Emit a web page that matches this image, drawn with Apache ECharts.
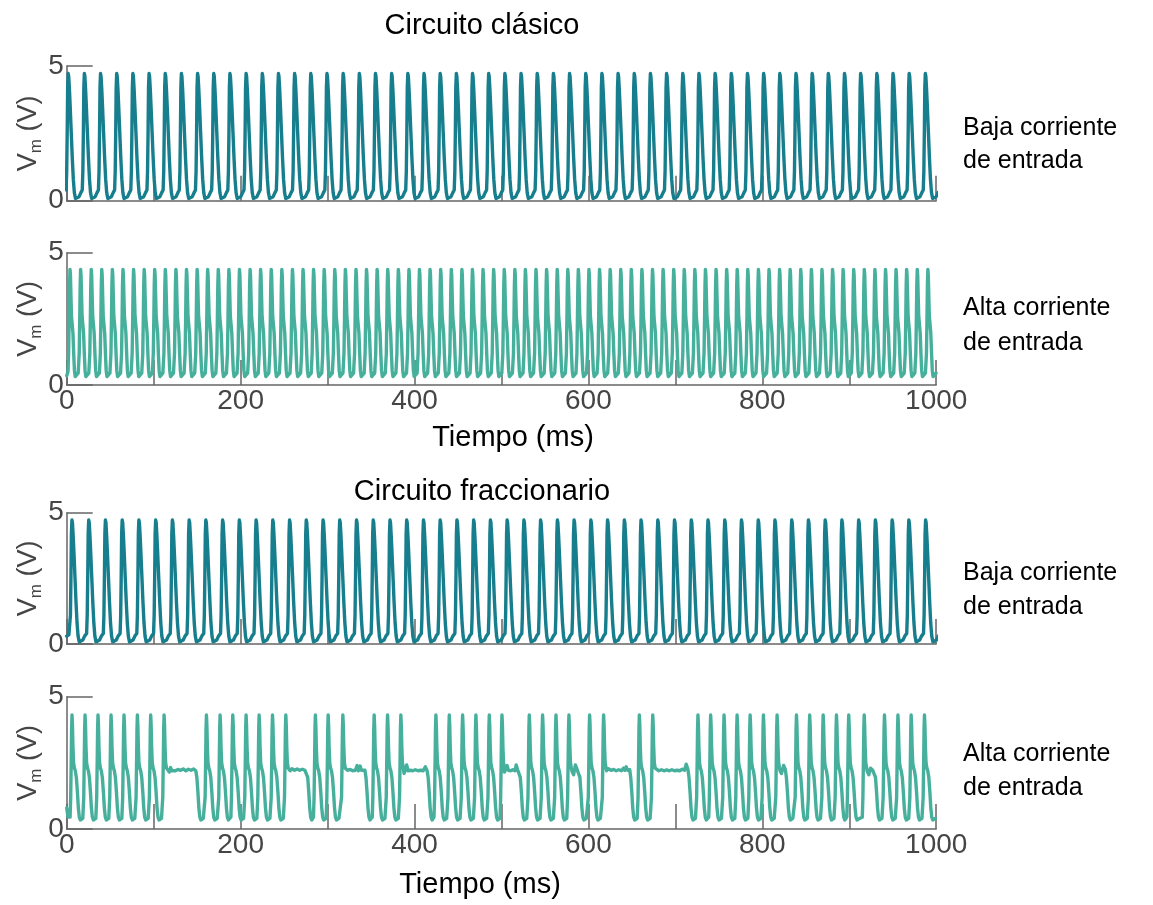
<!DOCTYPE html>
<html>
<head>
<meta charset="utf-8">
<script src="https://cdn.jsdelivr.net/npm/echarts@6/dist/echarts.min.js"></script>
<style>
  html, body { margin: 0; padding: 0; background: #ffffff; }
  #chart { width: 1153px; height: 905px; }
</style>
</head>
<body>
<div id="chart"></div>
<script>
// ---- Data (time in ms, voltage in V) ----
const timeRange = [0, 1000];
const voltRange = [0, 5];
const panelTitles = ['Circuito clásico', 'Circuito fraccionario'];
const rowLabels = [
  ['Baja corriente', 'de entrada'],
  ['Alta corriente', 'de entrada'],
  ['Baja corriente', 'de entrada'],
  ['Alta corriente', 'de entrada']
];
const timeAxisName = 'Tiempo (ms)';

// Spike peak times, classic circuit, low input current
const peaksClassicLow = [1.7, 20.3, 38.9, 57.5, 76.1, 94.7, 113.3, 131.9, 150.5, 169.1, 187.7, 206.3, 224.9, 243.5,
  262.1, 280.7, 299.3, 317.9, 336.5, 355.1, 373.7, 392.3, 410.9, 429.5, 448.1, 466.7, 485.3, 503.9, 522.5, 541.1,
  559.7, 578.3, 596.9, 615.5, 634.1, 652.7, 671.3, 689.9, 708.5, 727.1, 745.7, 764.3, 782.9, 801.5, 820.1, 838.7,
  857.3, 875.9, 894.5, 913.1, 931.7, 950.3, 968.9, 987.5];

// Spike peak times, classic circuit, high input current
const peaksClassicHigh = [3.8, 16.0, 28.2, 40.3, 52.5, 64.7, 76.9, 89.1, 101.2, 113.4, 125.6, 137.8, 150.0, 162.1,
  174.3, 186.5, 198.7, 210.9, 223.0, 235.2, 247.4, 259.6, 271.8, 283.9, 296.1, 308.3, 320.5, 332.7, 344.8, 357.0,
  369.2, 381.4, 393.6, 405.7, 417.9, 430.1, 442.3, 454.5, 466.6, 478.8, 491.0, 503.2, 515.4, 527.5, 539.7, 551.9,
  564.1, 576.3, 588.4, 600.6, 612.8, 625.0, 637.2, 649.3, 661.5, 673.7, 685.9, 698.1, 710.2, 722.4, 734.6, 746.8,
  759.0, 771.1, 783.3, 795.5, 807.7, 819.9, 832.0, 844.2, 856.4, 868.6, 880.8, 892.9, 905.1, 917.3, 929.5, 941.7,
  953.8, 966.0, 978.2, 990.4];

// Spike peak times, fractional circuit, low input current
const peaksFracLow = [6.0, 25.3, 44.5, 63.8, 83.0, 102.3, 121.5, 140.8, 160.0, 179.3, 198.5, 217.8, 237.0, 256.3,
  275.5, 294.8, 314.0, 333.3, 352.5, 371.8, 391.0, 410.3, 429.5, 448.8, 468.0, 487.3, 506.5, 525.8, 545.0, 564.3,
  583.5, 602.8, 622.0, 641.3, 660.5, 679.8, 699.0, 718.3, 737.5, 756.8, 776.0, 795.3, 814.5, 833.8, 853.0, 872.3,
  891.5, 910.8, 930.0, 949.3, 968.5, 987.8];

// Spike peak times, fractional circuit, high input current (bursting)
const peaksFracHigh = [6.1, 21.1, 36.0, 51.0, 65.9, 81.3, 96.6, 112.0,
  160.7, 176.4, 191.0, 206.3, 221.3, 236.7, 252.0,
  286.0, 300.7, 317.6,
  353.6, 369.0, 384.3,
  424.6, 440.0, 455.3, 470.6, 486.0, 500.6,
  532.0, 547.3, 562.7, 577.6, 601.4, 617.5,
  658.6, 674.0,
  726.0, 740.6, 756.0, 771.0, 786.0, 801.3, 817.0, 839.3, 854.5, 870.0, 885.3, 899.4, 917.2,
  940.5, 956.0, 971.2, 986.5];

// Depolarised plateaus between bursts (fractional circuit, high current)
const plateausFracHigh = [
  [[116, 2.3], [118, 2.15], [119.5, 2.32], [121, 2.2], [123, 2.27], [125, 2.2], [128, 2.25], [131, 2.22], [134, 2.27],
   [137, 2.2], [140, 2.26], [143, 2.22], [146, 2.27], [148.5, 2.2]],
  [[255, 2.3], [257, 2.2], [259, 2.28], [262, 2.22], [265, 2.27], [268, 2.22], [271, 2.26], [274, 2.22], [276, 2.2]],
  [[321, 2.35], [323, 2.22], [326, 2.25], [329, 2.2], [332, 2.22], [334, 2.4], [335.5, 2.2], [337.5, 2.38], [339, 2.22],
   [341, 2.25], [343, 2.22]],
  [[388, 2.1], [389.5, 2.05], [391, 2.42], [392.5, 2.2], [395, 2.22], [398, 2.2], [401, 2.24], [404, 2.2], [407, 2.22],
   [410, 2.2], [412.5, 2.35], [414.5, 2.2]],
  [[503.5, 2.15], [505, 2.1], [506.5, 2.4], [508, 2.22], [510.5, 2.2], [513, 2.24], [515.5, 2.2], [517, 2.42],
   [518.5, 2.25], [520.5, 2.22]],
  [[581, 2.2], [583, 2.05], [585, 2.42], [587, 2.25], [589, 2.2]],
  [[621, 2.2], [623, 2.28], [626, 2.22], [629, 2.25], [632, 2.2], [635, 2.24], [638, 2.2], [640.5, 2.3], [642, 2.22],
   [643.5, 2.35], [645, 2.22], [647.5, 2.24]],
  [[678, 2.25], [681, 2.2], [684, 2.24], [687, 2.2], [690, 2.23], [693, 2.2], [696, 2.24], [699, 2.2], [702, 2.22],
   [705, 2.2], [708, 2.26], [710.5, 2.22], [712.5, 2.45], [714.5, 2.25]],
  [[820.5, 2.2], [822, 2.1], [824.5, 2.4], [826.5, 2.25]],
  [[920.5, 2.2], [922.5, 2.05], [924.5, 2.3], [927, 2.22], [929, 2.2]]
];

// Spike waveforms: [offset from peak (ms), V]; rise part up to the shoulder, then repolarisation
const riseLow = [[-2.4, 0.4], [-1.7, 1.1], [-1.1, 2.6], [-0.6, 4.2], [0, 4.72], [0.6, 4.62], [1.4, 4.15], [2.3, 3.5]];
const fallLow = [[3.5, 2.55], [4.7, 1.6], [5.9, 0.8], [7.1, 0.3], [8.4, 0.08], [10.2, 0.07], [12.5, 0.15], [14.6, 0.3]];
const riseHigh = [[-2.3, 0.5], [-1.6, 1.2], [-1.0, 2.5], [-0.5, 3.8], [0, 4.37], [0.5, 4.15], [1.1, 3.35], [1.7, 2.6]];
const fallHigh = [[2.5, 2.3], [3.4, 1.95], [4.3, 1.15], [5.1, 0.55], [6.0, 0.32], [7.0, 0.28], [8.3, 0.35], [9.4, 0.45]];
const riseFrac = [[-2.2, 0.45], [-1.5, 1.2], [-0.9, 2.6], [-0.45, 3.8], [0, 4.31], [0.5, 3.95], [1.1, 3.1], [1.8, 2.5], [2.8, 2.3]];
const fallFrac = [[3.8, 2.2], [5.0, 1.95], [6.2, 1.4], [7.3, 0.8], [8.4, 0.45], [9.6, 0.34], [11.0, 0.34], [12.4, 0.4]];

// Trace values before the first spike
const startClassicLow = [];
const startClassicHigh = [[0, 0.35]];
const startFracLow = [[0, 0.3], [2.5, 0.35]];
const startFracHigh = [[0, 0.8], [1.5, 0.45], [3.0, 0.38]];

// ---- Trace assembly: each spike placed at its peak time ----
function buildTrace(start, peaks, rise, fall, plateaus) {
  const pts = start.slice();
  const fallStart = fall[0][0];
  peaks.forEach((tp, i) => {
    const nextPeak = i + 1 < peaks.length ? peaks[i + 1] : Infinity;
    const nextRise = nextPeak + rise[0][0];
    const push = (t, v) => {
      if ((pts.length === 0 || t > pts[pts.length - 1][0]) && t < nextRise) pts.push([+t.toFixed(2), v]);
    };
    rise.forEach(([o, v]) => push(tp + o, v));
    const hold = (plateaus || []).find(p => p[0][0] > tp && p[0][0] < nextPeak);
    if (hold) {
      hold.forEach(([t, v]) => push(t, v));
      const t0 = hold[hold.length - 1][0];
      fall.slice(1).forEach(([o, v]) => push(t0 + o - fallStart, v));
    } else {
      fall.forEach(([o, v]) => push(tp + o, v));
    }
  });
  return pts;
}

const traces = [
  buildTrace(startClassicLow, peaksClassicLow, riseLow, fallLow),
  buildTrace(startClassicHigh, peaksClassicHigh, riseHigh, fallHigh),
  buildTrace(startFracLow, peaksFracLow, riseLow, fallLow),
  buildTrace(startFracHigh, peaksFracHigh, riseFrac, fallFrac, plateausFracHigh)
];

// ---- Styling / layout ----
const FONT = '"Liberation Sans", Arial, Helvetica, sans-serif';
const DARK_TEAL = '#177e8d';
const LIGHT_TEAL = '#47b09d';
const AXIS_GREY = '#666666';
const LABEL_GREY = '#454545';
const lineColors = [DARK_TEAL, LIGHT_TEAL, DARK_TEAL, LIGHT_TEAL];
const gridBoxes = [
  { top: 66, height: 134.7 },
  { top: 252.7, height: 132.3 },
  { top: 512.7, height: 131.3 },
  { top: 696.7, height: 132.3 }
];
const plotLeft = 66.7, plotWidth = 869.5;

const chart = echarts.init(document.getElementById('chart'), null, { renderer: 'canvas' });

const grids = gridBoxes.map(b => ({ left: plotLeft, width: plotWidth, top: b.top, height: b.height }));

const xAxes = gridBoxes.map((b, i) => ({
  type: 'value', gridIndex: i, min: timeRange[0], max: timeRange[1], interval: 100,
  axisLine: { lineStyle: { color: AXIS_GREY, width: 1.5 } },
  axisTick: { inside: true, length: 25, lineStyle: { color: AXIS_GREY, width: 1.5 } },
  axisLabel: {
    show: i % 2 === 1, margin: 2, fontSize: 28, color: LABEL_GREY, fontFamily: FONT,
    formatter: v => (v % 200 === 0 ? String(v) : '')
  },
  splitLine: { show: false }
}));

const yAxes = gridBoxes.map((b, i) => ({
  type: 'value', gridIndex: i, min: voltRange[0], max: voltRange[1], interval: 5,
  axisLine: { lineStyle: { color: AXIS_GREY, width: 1.5 } },
  axisTick: { inside: true, length: 26, lineStyle: { color: AXIS_GREY, width: 1.5 } },
  axisLabel: { margin: 3, fontSize: 28, color: LABEL_GREY, fontFamily: FONT },
  splitLine: { show: false }
}));

const series = traces.map((data, i) => ({
  type: 'line', xAxisIndex: i, yAxisIndex: i, data,
  showSymbol: false, symbol: 'none', clip: true, animation: false,
  lineStyle: { color: lineColors[i], width: 3.4, join: 'round', cap: 'round' },
  z: 5
}));

// Text: panel titles, row descriptions, axis names
const graphics = [];
const textEl = (x, y, text, size, color, align) => ({
  type: 'text', x, y, silent: true,
  style: { text, font: `${size}px ${FONT}`, fill: color, textAlign: align || 'center', textVerticalAlign: 'middle' }
});
graphics.push(textEl(482, 26, panelTitles[0], 29, '#000'));
graphics.push(textEl(482, 492, panelTitles[1], 29, '#000'));
const rowTextY = [[128, 161], [308, 343], [573, 607], [754, 788]];
rowLabels.forEach((lines, i) => {
  graphics.push(textEl(963, rowTextY[i][0], lines[0], 25, '#000', 'left'));
  graphics.push(textEl(963, rowTextY[i][1], lines[1], 25, '#000', 'left'));
});
graphics.push(textEl(513, 438, timeAxisName, 29, '#000'));
graphics.push(textEl(480, 885, timeAxisName, 29, '#000'));
gridBoxes.forEach(b => {
  graphics.push({
    type: 'text', x: 29, y: b.top + b.height / 2, rotation: Math.PI / 2, silent: true,
    style: {
      text: '{v|V}{s|m}{v| (V)}',
      textAlign: 'center', textVerticalAlign: 'middle', fill: LABEL_GREY,
      rich: {
        v: { fontSize: 27, fontFamily: FONT, fill: LABEL_GREY, lineHeight: 32 },
        s: { fontSize: 17, fontFamily: FONT, fill: LABEL_GREY, lineHeight: 32, verticalAlign: 'bottom', padding: [16, 0, 0, 0] }
      }
    }
  });
});

chart.setOption({
  animation: false,
  backgroundColor: '#ffffff',
  grid: grids,
  xAxis: xAxes,
  yAxis: yAxes,
  series,
  graphic: graphics
});
</script>
</body>
</html>
